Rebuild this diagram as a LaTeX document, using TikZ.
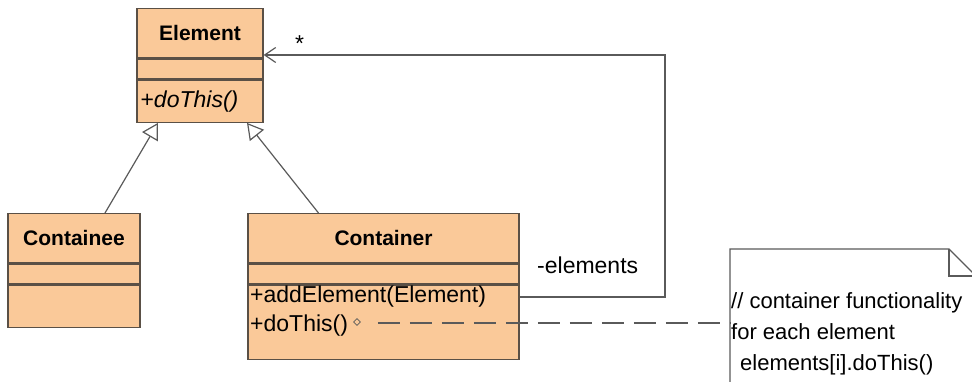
\documentclass[tikz,border=0pt]{standalone}
\usepackage{fontspec}
\setmainfont{Liberation Sans}
\usetikzlibrary{arrows.meta,shapes.geometric}
\definecolor{classfill}{RGB}{250,201,153}
\definecolor{classline}{RGB}{90,80,70}
\definecolor{wireline}{RGB}{90,90,90}

\begin{document}
\begin{tikzpicture}[x=1pt, y=-1pt,
  sectbox/.style={draw=classline, fill=classfill, line width=1.3pt, inner sep=0pt, anchor=north},
  namebox/.style={sectbox, minimum height=49pt, font=\fontsize{21pt}{25pt}\selectfont\bfseries},
  optext/.style={anchor=west, inner sep=0pt, font=\fontsize{23pt}{26pt}\selectfont},
  notetext/.style={anchor=base west, inner sep=0pt, font=\fontsize{22pt}{26pt}\selectfont},
  inherit/.style={-{Triangle[open, length=16pt, width=18pt, fill=white]}, draw=wireline, line width=1.2pt},
  assoc/.style={-{Straight Barb[length=11pt, width=15pt]}, draw=wireline, line width=1.2pt},
  dashline/.style={draw=wireline, line width=1.2pt, dash pattern=on 22pt off 10pt}]

 \useasboundingbox (0,0) rectangle (972,382);
 \clip (0,0) rectangle (972,382);

 \node[namebox, minimum width=126pt] (element_name) at (200,8) {Element};
 \node[sectbox, minimum width=126pt, minimum height=20pt] (element_attr) at (element_name.south) {};
 \node[sectbox, minimum width=126pt, minimum height=42pt] (element_ops) at (element_attr.south) {};
 \node[optext] (element_dothis) at ([xshift=4pt]element_ops.west) {+\textit{doThis()}};

 \node[namebox, minimum width=132pt] (containee_name) at (74,213) {Containee};
 \node[sectbox, minimum width=132pt, minimum height=20pt] (containee_attr) at (containee_name.south) {};
 \node[sectbox, minimum width=132pt, minimum height=42pt] (containee_ops) at (containee_attr.south) {};

 \node[namebox, minimum width=271pt] (container_name) at (383.5,213) {Container};
 \node[sectbox, minimum width=271pt, minimum height=20pt] (container_attr) at (container_name.south) {};
 \node[sectbox, minimum width=271pt, minimum height=74pt] (container_ops) at (container_attr.south) {};
 \node[optext] (container_add) at (250,297) {+addElement(Element)};
 \node[optext] (container_dothis) at (250,326) {+doThis()};
 \node[diamond, draw=wireline, fill=classfill, line width=0.8pt, inner sep=0pt, minimum size=7pt]
     (dothis_mark) at (357,322) {};

 \draw[wireline, line width=1.2pt, fill=white]
     (730,249) -- (949,249) -- (976,276) -- (976,400) -- (730,400) -- cycle;
 \draw[wireline, line width=1.2pt] (949,249) -- (949,276) -- (976,276);
 \coordinate (note_in) at (730,323);
 \node[notetext] (note_line1) at (731,308) {// container functionality};
 \node[notetext] (note_line2) at (731,339) {for each element};
 \node[notetext] (note_line3) at (740,370) {elements[i].doThis()};

 \coordinate (assoc_bend) at (665,55);

 \draw[inherit] ([xshift=31pt]containee_name.north) -- ([xshift=-42pt]element_ops.south);
 \draw[inherit] ([xshift=-65pt]container_name.north) -- ([xshift=47pt]element_ops.south);
 \draw[assoc] (container_add -| container_ops.east) -| (assoc_bend) -- (assoc_bend -| element_name.east);
 \draw[dashline] ([xshift=17pt]dothis_mark.east |- note_in) -- (note_in);

 \node[optext] (assoc_role) at (537,265) {-elements};
 \node[optext] (assoc_mult) at (295,44) {*};

\end{tikzpicture}
\end{document}
